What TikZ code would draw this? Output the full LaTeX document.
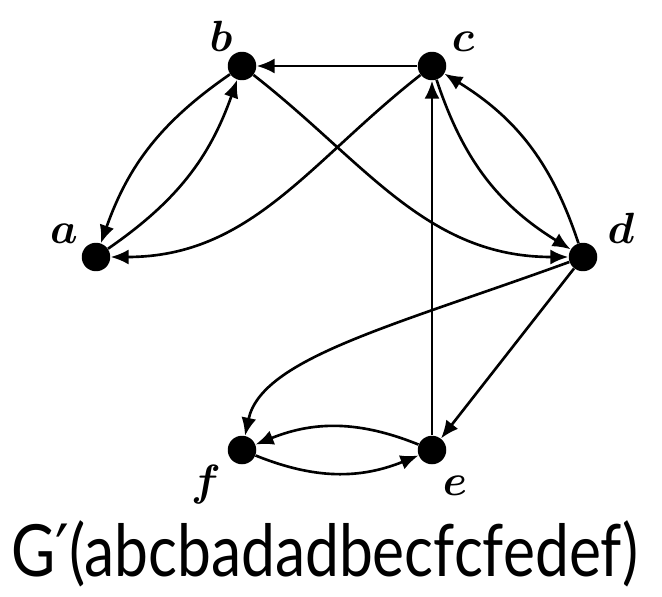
\documentclass[tikz,border=0pt]{standalone}
\usepackage{fontspec}
\usetikzlibrary{arrows.meta,positioning,calc}
\newfontfamily\capfont[FakeStretch=0.84]{Lato}
\newfontfamily\primefont[FakeStretch=0.84]{DejaVu Sans}

\tikzset{
  vtx/.style={circle,fill=black,inner sep=0pt,minimum size=0.57cm},
  lbl/.style={inner sep=0pt,anchor=base,font=\boldmath\fontsize{31}{34}\selectfont},
  arc/.style={line width=1.5pt,-{Latex[length=3.6mm,width=3mm]}}
}

\begin{document}
\begin{tikzpicture}[x=0.02cm,y=0.02cm]
  \useasboundingbox (0,0) rectangle (662,596);

  % vertices
  \node[vtx] (b) at (242,530) {};
  \node[vtx] (c) at (432,530) {};
  \node[vtx] (a) at (96,339) {};
  \node[vtx] (d) at (583,339) {};
  \node[vtx] (f) at (242,146) {};
  \node[vtx] (e) at (432,146) {};

  % vertex names
  \node[lbl] (lb) at (221,544) {$b$};
  \node[lbl] (lc) at (463,544) {$c$};
  \node[lbl] (la) at (64,353) {$a$};
  \node[lbl] (ld) at (621,353) {$d$};
  \node[lbl] (lf) at (206,101) {$f$};
  \node[lbl] (le) at (455,101) {$e$};

  % edges
  \draw[arc] (c) -- (b);
  \draw[arc] (b) to[bend right=18] (a);
  \draw[arc] (a) to[bend right=18] (b);
  \draw[arc] (c) to[out=218,in=0] (a);
  \draw[arc] (b) to[out=-38,in=180] (d);
  \draw[arc] (c) to[bend right=20] (d);
  \draw[arc] (d) to[bend right=20] (c);
  \draw[arc] (e) -- (c);
  \draw[arc] (d) -- (e);
  \draw[arc] (d) to[out=200,in=78,out looseness=1.3,in looseness=0.55] (f);
  \draw[arc] (e) to[bend right=22] (f);
  \draw[arc] (f) to[bend right=22] (e);

  % caption
  \node[inner sep=0pt,anchor=base west,font=\capfont\fontsize{41}{45}\selectfont]
    (cap) at (11,20) {G{\primefont′}(abcbadadbecfcfedef)};
\end{tikzpicture}
\end{document}
